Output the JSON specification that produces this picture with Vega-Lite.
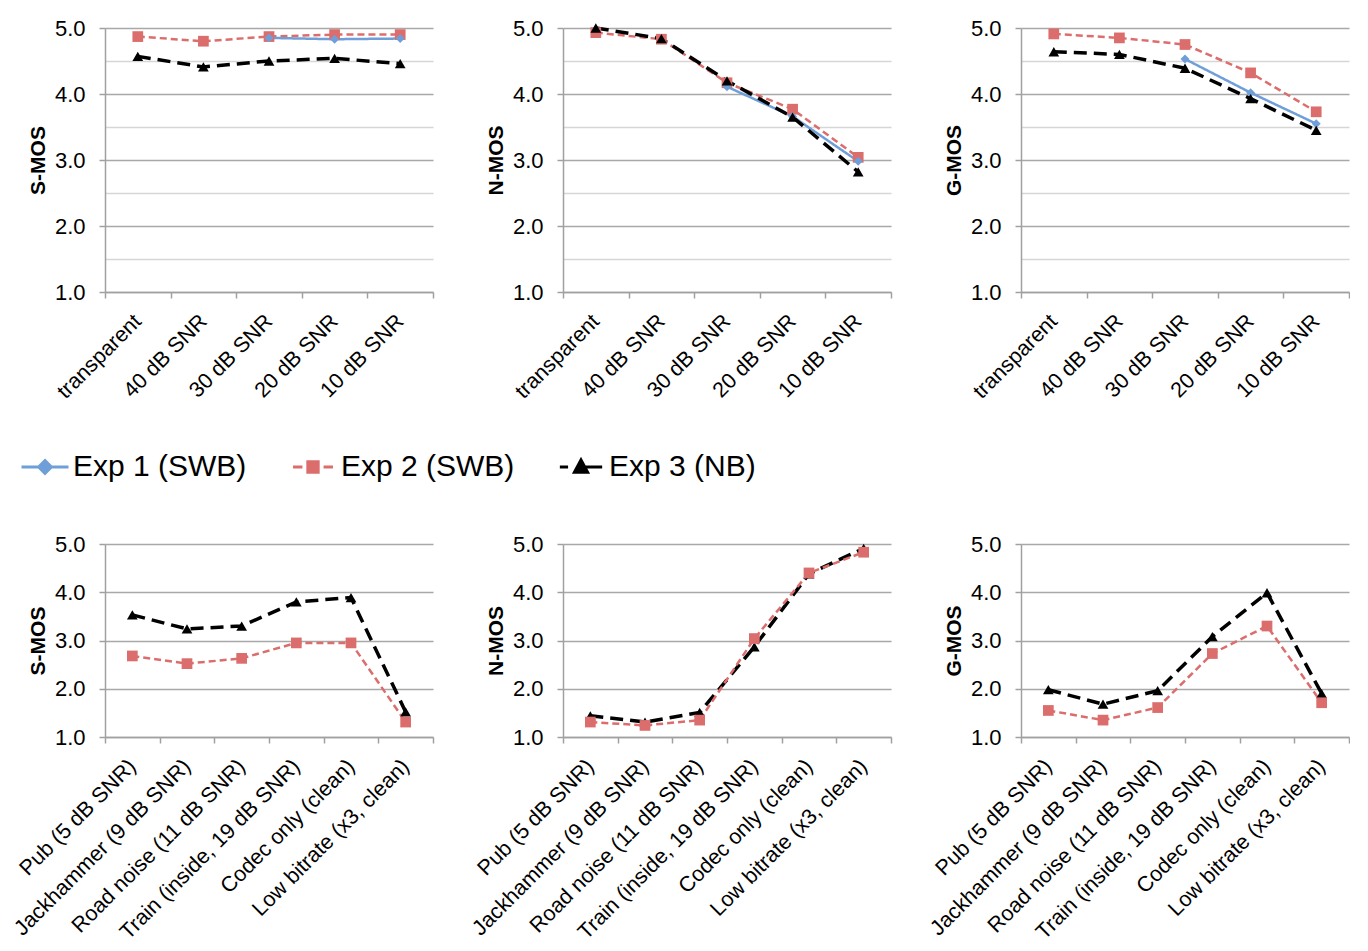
{
  "$schema": "https://vega.github.io/schema/vega-lite/v6.json",
  "background": "white",
  "padding": {"left": 10, "top": 17, "right": 0, "bottom": 0},
  "bounds": "flush",
  "columns": 3,
  "spacing": {"row": 252, "column": 130},
  "datasets": {
    "top": [
      {"metric": "S-MOS", "cond": "transparent", "exp": "Exp 2 (SWB)", "v": 4.87},
      {"metric": "S-MOS", "cond": "40 dB SNR", "exp": "Exp 2 (SWB)", "v": 4.80},
      {"metric": "S-MOS", "cond": "30 dB SNR", "exp": "Exp 2 (SWB)", "v": 4.87},
      {"metric": "S-MOS", "cond": "20 dB SNR", "exp": "Exp 2 (SWB)", "v": 4.90},
      {"metric": "S-MOS", "cond": "10 dB SNR", "exp": "Exp 2 (SWB)", "v": 4.90},
      {"metric": "S-MOS", "cond": "30 dB SNR", "exp": "Exp 1 (SWB)", "v": 4.85},
      {"metric": "S-MOS", "cond": "20 dB SNR", "exp": "Exp 1 (SWB)", "v": 4.83},
      {"metric": "S-MOS", "cond": "10 dB SNR", "exp": "Exp 1 (SWB)", "v": 4.84},
      {"metric": "S-MOS", "cond": "transparent", "exp": "Exp 3 (NB)", "v": 4.57},
      {"metric": "S-MOS", "cond": "40 dB SNR", "exp": "Exp 3 (NB)", "v": 4.41},
      {"metric": "S-MOS", "cond": "30 dB SNR", "exp": "Exp 3 (NB)", "v": 4.50},
      {"metric": "S-MOS", "cond": "20 dB SNR", "exp": "Exp 3 (NB)", "v": 4.54},
      {"metric": "S-MOS", "cond": "10 dB SNR", "exp": "Exp 3 (NB)", "v": 4.46},
      {"metric": "N-MOS", "cond": "transparent", "exp": "Exp 2 (SWB)", "v": 4.93},
      {"metric": "N-MOS", "cond": "40 dB SNR", "exp": "Exp 2 (SWB)", "v": 4.83},
      {"metric": "N-MOS", "cond": "30 dB SNR", "exp": "Exp 2 (SWB)", "v": 4.17},
      {"metric": "N-MOS", "cond": "20 dB SNR", "exp": "Exp 2 (SWB)", "v": 3.77},
      {"metric": "N-MOS", "cond": "10 dB SNR", "exp": "Exp 2 (SWB)", "v": 3.04},
      {"metric": "N-MOS", "cond": "30 dB SNR", "exp": "Exp 1 (SWB)", "v": 4.11},
      {"metric": "N-MOS", "cond": "20 dB SNR", "exp": "Exp 1 (SWB)", "v": 3.66},
      {"metric": "N-MOS", "cond": "10 dB SNR", "exp": "Exp 1 (SWB)", "v": 2.98},
      {"metric": "N-MOS", "cond": "transparent", "exp": "Exp 3 (NB)", "v": 5.0},
      {"metric": "N-MOS", "cond": "40 dB SNR", "exp": "Exp 3 (NB)", "v": 4.84},
      {"metric": "N-MOS", "cond": "30 dB SNR", "exp": "Exp 3 (NB)", "v": 4.20},
      {"metric": "N-MOS", "cond": "20 dB SNR", "exp": "Exp 3 (NB)", "v": 3.65},
      {"metric": "N-MOS", "cond": "10 dB SNR", "exp": "Exp 3 (NB)", "v": 2.82},
      {"metric": "G-MOS", "cond": "transparent", "exp": "Exp 2 (SWB)", "v": 4.91},
      {"metric": "G-MOS", "cond": "40 dB SNR", "exp": "Exp 2 (SWB)", "v": 4.85},
      {"metric": "G-MOS", "cond": "30 dB SNR", "exp": "Exp 2 (SWB)", "v": 4.75},
      {"metric": "G-MOS", "cond": "20 dB SNR", "exp": "Exp 2 (SWB)", "v": 4.32},
      {"metric": "G-MOS", "cond": "10 dB SNR", "exp": "Exp 2 (SWB)", "v": 3.73},
      {"metric": "G-MOS", "cond": "30 dB SNR", "exp": "Exp 1 (SWB)", "v": 4.53},
      {"metric": "G-MOS", "cond": "20 dB SNR", "exp": "Exp 1 (SWB)", "v": 4.02},
      {"metric": "G-MOS", "cond": "10 dB SNR", "exp": "Exp 1 (SWB)", "v": 3.55},
      {"metric": "G-MOS", "cond": "transparent", "exp": "Exp 3 (NB)", "v": 4.64},
      {"metric": "G-MOS", "cond": "40 dB SNR", "exp": "Exp 3 (NB)", "v": 4.60},
      {"metric": "G-MOS", "cond": "30 dB SNR", "exp": "Exp 3 (NB)", "v": 4.39},
      {"metric": "G-MOS", "cond": "20 dB SNR", "exp": "Exp 3 (NB)", "v": 3.93},
      {"metric": "G-MOS", "cond": "10 dB SNR", "exp": "Exp 3 (NB)", "v": 3.45}
    ],
    "bottom": [
      {"metric": "S-MOS", "cond": "Pub (5 dB SNR)", "exp": "Exp 3 (NB)", "v": 3.53},
      {"metric": "S-MOS", "cond": "Jackhammer (9 dB SNR)", "exp": "Exp 3 (NB)", "v": 3.24},
      {"metric": "S-MOS", "cond": "Road noise (11 dB SNR)", "exp": "Exp 3 (NB)", "v": 3.30},
      {"metric": "S-MOS", "cond": "Train (inside, 19 dB SNR)", "exp": "Exp 3 (NB)", "v": 3.80},
      {"metric": "S-MOS", "cond": "Codec only (clean)", "exp": "Exp 3 (NB)", "v": 3.89},
      {"metric": "S-MOS", "cond": "Low bitrate (x3, clean)", "exp": "Exp 3 (NB)", "v": 1.52},
      {"metric": "S-MOS", "cond": "Pub (5 dB SNR)", "exp": "Exp 2 (SWB)", "v": 2.68},
      {"metric": "S-MOS", "cond": "Jackhammer (9 dB SNR)", "exp": "Exp 2 (SWB)", "v": 2.52},
      {"metric": "S-MOS", "cond": "Road noise (11 dB SNR)", "exp": "Exp 2 (SWB)", "v": 2.63},
      {"metric": "S-MOS", "cond": "Train (inside, 19 dB SNR)", "exp": "Exp 2 (SWB)", "v": 2.95},
      {"metric": "S-MOS", "cond": "Codec only (clean)", "exp": "Exp 2 (SWB)", "v": 2.95},
      {"metric": "S-MOS", "cond": "Low bitrate (x3, clean)", "exp": "Exp 2 (SWB)", "v": 1.31},
      {"metric": "N-MOS", "cond": "Pub (5 dB SNR)", "exp": "Exp 3 (NB)", "v": 1.44},
      {"metric": "N-MOS", "cond": "Jackhammer (9 dB SNR)", "exp": "Exp 3 (NB)", "v": 1.31},
      {"metric": "N-MOS", "cond": "Road noise (11 dB SNR)", "exp": "Exp 3 (NB)", "v": 1.51},
      {"metric": "N-MOS", "cond": "Train (inside, 19 dB SNR)", "exp": "Exp 3 (NB)", "v": 2.87},
      {"metric": "N-MOS", "cond": "Codec only (clean)", "exp": "Exp 3 (NB)", "v": 4.38},
      {"metric": "N-MOS", "cond": "Low bitrate (x3, clean)", "exp": "Exp 3 (NB)", "v": 4.91},
      {"metric": "N-MOS", "cond": "Pub (5 dB SNR)", "exp": "Exp 2 (SWB)", "v": 1.31},
      {"metric": "N-MOS", "cond": "Jackhammer (9 dB SNR)", "exp": "Exp 2 (SWB)", "v": 1.24},
      {"metric": "N-MOS", "cond": "Road noise (11 dB SNR)", "exp": "Exp 2 (SWB)", "v": 1.35},
      {"metric": "N-MOS", "cond": "Train (inside, 19 dB SNR)", "exp": "Exp 2 (SWB)", "v": 3.04},
      {"metric": "N-MOS", "cond": "Codec only (clean)", "exp": "Exp 2 (SWB)", "v": 4.40},
      {"metric": "N-MOS", "cond": "Low bitrate (x3, clean)", "exp": "Exp 2 (SWB)", "v": 4.83},
      {"metric": "G-MOS", "cond": "Pub (5 dB SNR)", "exp": "Exp 3 (NB)", "v": 1.98},
      {"metric": "G-MOS", "cond": "Jackhammer (9 dB SNR)", "exp": "Exp 3 (NB)", "v": 1.68},
      {"metric": "G-MOS", "cond": "Road noise (11 dB SNR)", "exp": "Exp 3 (NB)", "v": 1.96},
      {"metric": "G-MOS", "cond": "Train (inside, 19 dB SNR)", "exp": "Exp 3 (NB)", "v": 3.08},
      {"metric": "G-MOS", "cond": "Codec only (clean)", "exp": "Exp 3 (NB)", "v": 3.99},
      {"metric": "G-MOS", "cond": "Low bitrate (x3, clean)", "exp": "Exp 3 (NB)", "v": 1.90},
      {"metric": "G-MOS", "cond": "Pub (5 dB SNR)", "exp": "Exp 2 (SWB)", "v": 1.55},
      {"metric": "G-MOS", "cond": "Jackhammer (9 dB SNR)", "exp": "Exp 2 (SWB)", "v": 1.35},
      {"metric": "G-MOS", "cond": "Road noise (11 dB SNR)", "exp": "Exp 2 (SWB)", "v": 1.61},
      {"metric": "G-MOS", "cond": "Train (inside, 19 dB SNR)", "exp": "Exp 2 (SWB)", "v": 2.73},
      {"metric": "G-MOS", "cond": "Codec only (clean)", "exp": "Exp 2 (SWB)", "v": 3.30},
      {"metric": "G-MOS", "cond": "Low bitrate (x3, clean)", "exp": "Exp 2 (SWB)", "v": 1.71}
    ]
  },
  "config": {
    "font": "Liberation Sans",
    "view": {"stroke": null},
    "axis": {
      "labelFont": "Liberation Sans",
      "labelColor": "#000000",
      "titleFont": "Liberation Sans",
      "titleColor": "#000000",
      "domainColor": "#A0A0A0",
      "domainWidth": 1.5,
      "tickColor": "#A0A0A0",
      "tickWidth": 1.5,
      "tickSize": 6
    },
    "axisX": {
      "tickBand": "extent",
      "grid": false,
      "title": null,
      "labelAngle": -45,
      "labelAlign": "right",
      "labelBaseline": "middle",
      "labelFontSize": 21.5,
      "labelPadding": 20,
      "labelLimit": 500,
      "labelOverlap": false
    },
    "axisY": {
      "values": [1, 1.5, 2, 2.5, 3, 3.5, 4, 4.5, 5],
      "labelExpr": "datum.value % 1 === 0 ? format(datum.value, '.1f') : ''",
      "labelFontSize": 22,
      "labelPadding": 14,
      "titleFontSize": 21,
      "titleFontWeight": "bold",
      "titlePadding": 6,
      "grid": true,
      "gridWidth": 1.5,
      "gridColor": {"condition": {"test": "datum.value % 1 !== 0", "value": "#D6D6D6"}, "value": "#A8A8A8"},
      "tickOpacity": {"condition": {"test": "datum.value % 1 !== 0", "value": 0}, "value": 1}
    }
  },
  "concat": [
    {
      "width": 328, "height": 264,
      "data": {"name": "top"},
      "transform": [{"filter": "datum.metric === 'S-MOS'"}],
      "encoding": {
        "x": {"field": "cond", "type": "nominal", "sort": ["transparent", "40 dB SNR", "30 dB SNR", "20 dB SNR", "10 dB SNR"], "scale": {"type": "band", "paddingInner": 0, "paddingOuter": 0}},
        "y": {"field": "v", "type": "quantitative", "scale": {"domain": [1, 5], "nice": false, "zero": false}, "axis": {"title": "S-MOS"}},
        "color": {"field": "exp", "type": "nominal", "scale": {"domain": ["Exp 1 (SWB)", "Exp 2 (SWB)", "Exp 3 (NB)"], "range": ["#6F9FD8", "#DB6E6C", "#000000"]},
          "legend": {
            "title": null, "orient": "none", "legendX": -85, "legendY": 414, "direction": "horizontal",
            "symbolSize": 2209, "symbolStrokeWidth": 3, "labelFontSize": 30, "labelFont": "Liberation Sans", "labelColor": "#000000",
            "labelOffset": 3, "columnPadding": 38, "gridAlign": "all", "labelLimit": 500, "padding": 0,
            "encode": {"symbols": {"update": {
              "shape": {"signal": "datum.value === 'Exp 1 (SWB)' ? 'M-1,0H1M0,-0.27L0.27,0L0,0.27L-0.27,0Z' : datum.value === 'Exp 2 (SWB)' ? 'M-0.85,0H-0.45M0.45,0H0.85M-0.22,-0.22H0.22V0.22H-0.22Z' : 'M-0.9,0H-0.55M0.2,0H0.9M0,-0.3L0.28,0.22L-0.28,0.22Z'"},
              "fill": {"signal": "datum.value === 'Exp 1 (SWB)' ? '#6F9FD8' : datum.value === 'Exp 2 (SWB)' ? '#DB6E6C' : '#000000'"},
              "stroke": {"signal": "datum.value === 'Exp 1 (SWB)' ? '#6F9FD8' : datum.value === 'Exp 2 (SWB)' ? '#DB6E6C' : '#000000'"},
              "strokeWidth": {"value": 3},
              "opacity": {"value": 1},
              "fillOpacity": {"value": 1},
              "strokeOpacity": {"value": 1}
            }}}
          }}
      },
      "layer": [
        {"mark": {"type": "line"}, "encoding": {
          "strokeDash": {"condition": [{"test": "datum.exp === 'Exp 2 (SWB)'", "value": [7, 4]}, {"test": "datum.exp === 'Exp 3 (NB)'", "value": [13, 7]}], "value": [1, 0]},
          "strokeWidth": {"condition": {"test": "datum.exp === 'Exp 3 (NB)'", "value": 3.5}, "value": 2.5}}},
        {"mark": {"type": "point", "filled": true, "opacity": 1}, "encoding": {
          "shape": {"condition": [{"test": "datum.exp === 'Exp 1 (SWB)'", "value": "diamond"}, {"test": "datum.exp === 'Exp 2 (SWB)'", "value": "square"}], "value": "triangle-up"},
          "size": {"condition": [{"test": "datum.exp === 'Exp 1 (SWB)'", "value": 80}, {"test": "datum.exp === 'Exp 2 (SWB)'", "value": 115}], "value": 115}}}
      ]
    },
    {
      "width": 328, "height": 264,
      "data": {"name": "top"},
      "transform": [{"filter": "datum.metric === 'N-MOS'"}],
      "encoding": {
        "x": {"field": "cond", "type": "nominal", "sort": ["transparent", "40 dB SNR", "30 dB SNR", "20 dB SNR", "10 dB SNR"], "scale": {"type": "band", "paddingInner": 0, "paddingOuter": 0}},
        "y": {"field": "v", "type": "quantitative", "scale": {"domain": [1, 5], "nice": false, "zero": false}, "axis": {"title": "N-MOS"}},
        "color": {"field": "exp", "type": "nominal", "scale": {"domain": ["Exp 1 (SWB)", "Exp 2 (SWB)", "Exp 3 (NB)"], "range": ["#6F9FD8", "#DB6E6C", "#000000"]}, "legend": null}
      },
      "layer": [
        {"mark": {"type": "line"}, "encoding": {
          "strokeDash": {"condition": [{"test": "datum.exp === 'Exp 2 (SWB)'", "value": [7, 4]}, {"test": "datum.exp === 'Exp 3 (NB)'", "value": [13, 7]}], "value": [1, 0]},
          "strokeWidth": {"condition": {"test": "datum.exp === 'Exp 3 (NB)'", "value": 3.5}, "value": 2.5}}},
        {"mark": {"type": "point", "filled": true, "opacity": 1}, "encoding": {
          "shape": {"condition": [{"test": "datum.exp === 'Exp 1 (SWB)'", "value": "diamond"}, {"test": "datum.exp === 'Exp 2 (SWB)'", "value": "square"}], "value": "triangle-up"},
          "size": {"condition": [{"test": "datum.exp === 'Exp 1 (SWB)'", "value": 80}, {"test": "datum.exp === 'Exp 2 (SWB)'", "value": 115}], "value": 115}}}
      ]
    },
    {
      "width": 328, "height": 264,
      "data": {"name": "top"},
      "transform": [{"filter": "datum.metric === 'G-MOS'"}],
      "encoding": {
        "x": {"field": "cond", "type": "nominal", "sort": ["transparent", "40 dB SNR", "30 dB SNR", "20 dB SNR", "10 dB SNR"], "scale": {"type": "band", "paddingInner": 0, "paddingOuter": 0}},
        "y": {"field": "v", "type": "quantitative", "scale": {"domain": [1, 5], "nice": false, "zero": false}, "axis": {"title": "G-MOS"}},
        "color": {"field": "exp", "type": "nominal", "scale": {"domain": ["Exp 1 (SWB)", "Exp 2 (SWB)", "Exp 3 (NB)"], "range": ["#6F9FD8", "#DB6E6C", "#000000"]}, "legend": null}
      },
      "layer": [
        {"mark": {"type": "line"}, "encoding": {
          "strokeDash": {"condition": [{"test": "datum.exp === 'Exp 2 (SWB)'", "value": [7, 4]}, {"test": "datum.exp === 'Exp 3 (NB)'", "value": [13, 7]}], "value": [1, 0]},
          "strokeWidth": {"condition": {"test": "datum.exp === 'Exp 3 (NB)'", "value": 3.5}, "value": 2.5}}},
        {"mark": {"type": "point", "filled": true, "opacity": 1}, "encoding": {
          "shape": {"condition": [{"test": "datum.exp === 'Exp 1 (SWB)'", "value": "diamond"}, {"test": "datum.exp === 'Exp 2 (SWB)'", "value": "square"}], "value": "triangle-up"},
          "size": {"condition": [{"test": "datum.exp === 'Exp 1 (SWB)'", "value": 80}, {"test": "datum.exp === 'Exp 2 (SWB)'", "value": 115}], "value": 115}}}
      ]
    },
    {
      "width": 328, "height": 193,
      "data": {"name": "bottom"},
      "transform": [{"filter": "datum.metric === 'S-MOS'"}],
      "encoding": {
        "x": {"field": "cond", "type": "nominal", "sort": ["Pub (5 dB SNR)", "Jackhammer (9 dB SNR)", "Road noise (11 dB SNR)", "Train (inside, 19 dB SNR)", "Codec only (clean)", "Low bitrate (x3, clean)"], "scale": {"type": "band", "paddingInner": 0, "paddingOuter": 0}},
        "y": {"field": "v", "type": "quantitative", "scale": {"domain": [1, 5], "nice": false, "zero": false}, "axis": {"title": "S-MOS"}},
        "color": {"field": "exp", "type": "nominal", "scale": {"domain": ["Exp 1 (SWB)", "Exp 2 (SWB)", "Exp 3 (NB)"], "range": ["#6F9FD8", "#DB6E6C", "#000000"]}, "legend": null}
      },
      "layer": [
        {"mark": {"type": "line"}, "encoding": {
          "strokeDash": {"condition": [{"test": "datum.exp === 'Exp 2 (SWB)'", "value": [7, 4]}, {"test": "datum.exp === 'Exp 3 (NB)'", "value": [13, 7]}], "value": [1, 0]},
          "strokeWidth": {"condition": {"test": "datum.exp === 'Exp 3 (NB)'", "value": 3.5}, "value": 2.5}}},
        {"mark": {"type": "point", "filled": true, "opacity": 1}, "encoding": {
          "shape": {"condition": [{"test": "datum.exp === 'Exp 1 (SWB)'", "value": "diamond"}, {"test": "datum.exp === 'Exp 2 (SWB)'", "value": "square"}], "value": "triangle-up"},
          "size": {"condition": [{"test": "datum.exp === 'Exp 1 (SWB)'", "value": 80}, {"test": "datum.exp === 'Exp 2 (SWB)'", "value": 115}], "value": 115}}}
      ]
    },
    {
      "width": 328, "height": 193,
      "data": {"name": "bottom"},
      "transform": [{"filter": "datum.metric === 'N-MOS'"}],
      "encoding": {
        "x": {"field": "cond", "type": "nominal", "sort": ["Pub (5 dB SNR)", "Jackhammer (9 dB SNR)", "Road noise (11 dB SNR)", "Train (inside, 19 dB SNR)", "Codec only (clean)", "Low bitrate (x3, clean)"], "scale": {"type": "band", "paddingInner": 0, "paddingOuter": 0}},
        "y": {"field": "v", "type": "quantitative", "scale": {"domain": [1, 5], "nice": false, "zero": false}, "axis": {"title": "N-MOS"}},
        "color": {"field": "exp", "type": "nominal", "scale": {"domain": ["Exp 1 (SWB)", "Exp 2 (SWB)", "Exp 3 (NB)"], "range": ["#6F9FD8", "#DB6E6C", "#000000"]}, "legend": null}
      },
      "layer": [
        {"mark": {"type": "line"}, "encoding": {
          "strokeDash": {"condition": [{"test": "datum.exp === 'Exp 2 (SWB)'", "value": [7, 4]}, {"test": "datum.exp === 'Exp 3 (NB)'", "value": [13, 7]}], "value": [1, 0]},
          "strokeWidth": {"condition": {"test": "datum.exp === 'Exp 3 (NB)'", "value": 3.5}, "value": 2.5}}},
        {"mark": {"type": "point", "filled": true, "opacity": 1}, "encoding": {
          "shape": {"condition": [{"test": "datum.exp === 'Exp 1 (SWB)'", "value": "diamond"}, {"test": "datum.exp === 'Exp 2 (SWB)'", "value": "square"}], "value": "triangle-up"},
          "size": {"condition": [{"test": "datum.exp === 'Exp 1 (SWB)'", "value": 80}, {"test": "datum.exp === 'Exp 2 (SWB)'", "value": 115}], "value": 115}}}
      ]
    },
    {
      "width": 328, "height": 193,
      "data": {"name": "bottom"},
      "transform": [{"filter": "datum.metric === 'G-MOS'"}],
      "encoding": {
        "x": {"field": "cond", "type": "nominal", "sort": ["Pub (5 dB SNR)", "Jackhammer (9 dB SNR)", "Road noise (11 dB SNR)", "Train (inside, 19 dB SNR)", "Codec only (clean)", "Low bitrate (x3, clean)"], "scale": {"type": "band", "paddingInner": 0, "paddingOuter": 0}},
        "y": {"field": "v", "type": "quantitative", "scale": {"domain": [1, 5], "nice": false, "zero": false}, "axis": {"title": "G-MOS"}},
        "color": {"field": "exp", "type": "nominal", "scale": {"domain": ["Exp 1 (SWB)", "Exp 2 (SWB)", "Exp 3 (NB)"], "range": ["#6F9FD8", "#DB6E6C", "#000000"]}, "legend": null}
      },
      "layer": [
        {"mark": {"type": "line"}, "encoding": {
          "strokeDash": {"condition": [{"test": "datum.exp === 'Exp 2 (SWB)'", "value": [7, 4]}, {"test": "datum.exp === 'Exp 3 (NB)'", "value": [13, 7]}], "value": [1, 0]},
          "strokeWidth": {"condition": {"test": "datum.exp === 'Exp 3 (NB)'", "value": 3.5}, "value": 2.5}}},
        {"mark": {"type": "point", "filled": true, "opacity": 1}, "encoding": {
          "shape": {"condition": [{"test": "datum.exp === 'Exp 1 (SWB)'", "value": "diamond"}, {"test": "datum.exp === 'Exp 2 (SWB)'", "value": "square"}], "value": "triangle-up"},
          "size": {"condition": [{"test": "datum.exp === 'Exp 1 (SWB)'", "value": 80}, {"test": "datum.exp === 'Exp 2 (SWB)'", "value": 115}], "value": 115}}}
      ]
    }
  ]
}
